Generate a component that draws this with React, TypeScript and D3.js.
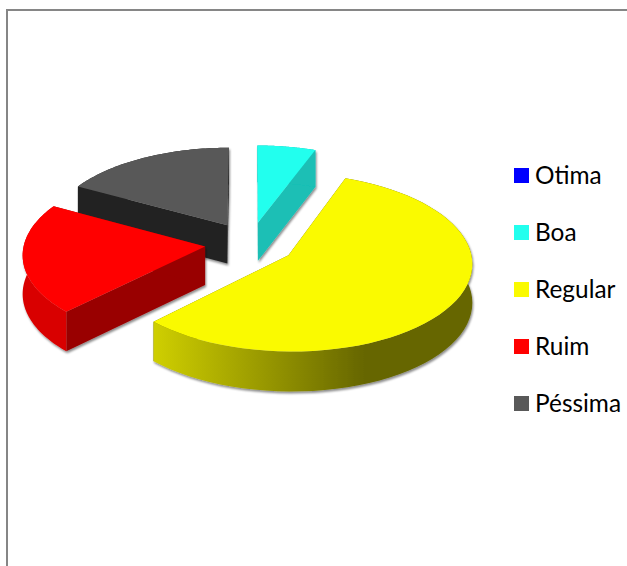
import { useRef, useEffect } from "react";
import * as d3 from "d3";

const categories = ["Otima", "Boa", "Regular", "Ruim", "Péssima"];
const values = [0, 5.7, 56.8, 20.5, 17.0];
const topColors = ["#0000ff", "#22ffee", "#fafa00", "#ff0000", "#595959"];
const rimColors = ["#0000aa", "#1abfb5", "url(#rimYellow)", "#d90000", "#222222"];
const cutColors = ["#0000aa", "#1abfb5", "#666600", "#990000", "#222222"];
// painter's order, back to front
const drawOrder = [4, 1, 3, 2];

const width = 627;
const height = 566;

const cx = 250;
const cy = 243.5;
const radiusX = 181;
const radiusY = 86.5;
const explode = 0.25;
const persp = 0.08;

type Pt = [number, number];

// plane coords: x to the right, z going away from the viewer
function project(x: number, z: number, drop = false): Pt {
  const s = 1 / (1 + persp * z);
  const depth = drop ? 38.5 - 1.3 * z : 0;
  return [cx + radiusX * x * s, cy - radiusY * z * s + depth];
}

export default function App() {
  const svgRef = useRef<SVGSVGElement>(null);

  useEffect(() => {
    const svg = d3.select(svgRef.current);
    svg.selectAll("*").remove();

    const defs = svg.append("defs");

    const grad = defs
      .append("linearGradient")
      .attr("id", "rimYellow")
      .attr("gradientUnits", "userSpaceOnUse")
      .attr("x1", 154)
      .attr("x2", 473)
      .attr("y1", 0)
      .attr("y2", 0);
    grad.append("stop").attr("offset", "0").attr("stop-color", "#cfcf00");
    grad.append("stop").attr("offset", "0.66").attr("stop-color", "#666600");
    grad.append("stop").attr("offset", "1").attr("stop-color", "#666600");

    const shadow = defs
      .append("filter")
      .attr("id", "shadow")
      .attr("x", "-10%")
      .attr("y", "-10%")
      .attr("width", "120%")
      .attr("height", "120%");
    shadow
      .append("feDropShadow")
      .attr("dx", 1)
      .attr("dy", 2)
      .attr("stdDeviation", 1)
      .attr("flood-color", "#000")
      .attr("flood-opacity", 0.45);

    // Frame
    svg
      .append("path")
      .attr("d", d3.line()([[7, height], [7, 10], [width, 10]]))
      .attr("fill", "none")
      .attr("stroke", "#868686")
      .attr("stroke-width", 2);

    const arcs = d3
      .pie<number>()
      .sort(null)
      .startAngle(0)
      .endAngle(2 * Math.PI)(values);

    const line = d3.line();

    drawOrder.forEach((i) => {
      const a = arcs[i];
      const mid = (a.startAngle + a.endAngle) / 2;
      const ox = explode * Math.sin(mid);
      const oz = explode * Math.cos(mid);

      const steps = d3.range(0, 61).map((k) => a.startAngle + ((a.endAngle - a.startAngle) * k) / 60);
      const rim = steps.map((t) => [ox + Math.sin(t), oz + Math.cos(t)] as Pt);

      const rimTop = rim.map((p) => project(p[0], p[1]));
      const rimBottom = rim.map((p) => project(p[0], p[1], true));
      const apexTop = project(ox, oz);
      const apexBottom = project(ox, oz, true);

      const g = svg.append("g").attr("filter", "url(#shadow)");

      // side walls
      g.append("path")
        .attr("d", line([apexTop, rimTop[0], rimBottom[0], apexBottom]) + "Z")
        .attr("fill", cutColors[i]);
      g.append("path")
        .attr("d", line([apexTop, rimTop[60], rimBottom[60], apexBottom]) + "Z")
        .attr("fill", cutColors[i]);
      g.append("path")
        .attr("d", line([...rimTop, ...rimBottom.slice().reverse()]) + "Z")
        .attr("fill", rimColors[i]);

      // top face
      g.append("path")
        .attr("d", line([apexTop, ...rimTop]) + "Z")
        .attr("fill", topColors[i]);
    });

    // Legend
    const legendY = d3
      .scalePoint<string>()
      .domain(categories)
      .range([175.5, 403.5]);

    const legend = svg
      .selectAll("g.legend")
      .data(categories)
      .enter()
      .append("g")
      .attr("class", "legend")
      .attr("transform", (d) => `translate(514,${legendY(d)})`);

    legend
      .append("rect")
      .attr("x", 0)
      .attr("y", -7.5)
      .attr("width", 15)
      .attr("height", 15)
      .attr("fill", (_, i) => topColors[i]);

    legend
      .append("text")
      .attr("x", 21)
      .attr("y", 8)
      .attr("font-family", "Lato, sans-serif")
      .attr("font-size", 24.4)
      .attr("fill", "#000")
      .text((d) => d);
  }, []);

  return (
    <svg
      ref={svgRef}
      width={width}
      height={height}
      style={{ position: "absolute", left: 0, top: 0, display: "block", background: "#fff" }}
    ></svg>
  );
}
